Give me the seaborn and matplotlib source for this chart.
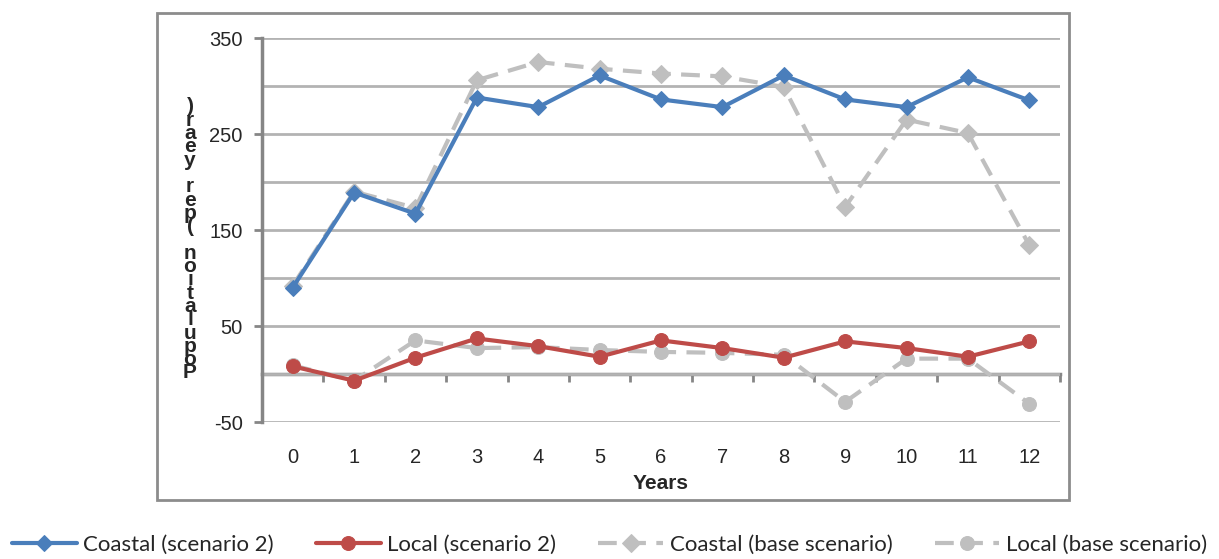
#!/usr/bin/env python3
"""plot.py - population per year, coastal vs local, scenario 2 vs base scenario."""
import numpy as np
import pandas as pd
import matplotlib; matplotlib.use("Agg")
import matplotlib.pyplot as plt
from matplotlib.patches import Rectangle
import seaborn as sns

years = list(range(13))
coastal_s2 = [90, 189, 167, 288, 278, 311, 286, 278, 311, 286, 278, 309, 285]
local_s2 = [8, -7, 17, 37, 29, 18, 35, 27, 17, 34, 27, 18, 34]
coastal_base = [92, 190, 173, 306, 325, 318, 313, 310, 299, 174, 265, 251, 134]
local_base = [9, -7, 35, 27, 28, 25, 23, 22, 20, -29, 16, 16, -31]

labels = ["Coastal (scenario 2)", "Local (scenario 2)",
          "Coastal (base scenario)", "Local (base scenario)"]
ylabel = "Population (per year)"

sns.set_style("white")
plt.rcParams["font.family"] = ["Liberation Sans", "DejaVu Sans"]
plt.rcParams["axes.unicode_minus"] = False

df = pd.DataFrame({"year": years, "cs2": coastal_s2, "ls2": local_s2,
                   "cb": coastal_base, "lb": local_base})

fig = plt.figure(figsize=(12.19, 5.59), dpi=100)
ax = fig.add_axes([262/1219, 1-422/559, 798/1219, 384/559])

# outer chart border
fig.patches.append(Rectangle((157/1219, 1-500/559), 912/1219, 487/559, transform=fig.transFigure,
                             fill=False, edgecolor="#8c8c8c", lw=2, zorder=0))

blue, red, grey = "#4a7ebb", "#be4b48", "#bfbfbf"
dash = (0, (4.5, 2.5))
sns.lineplot(data=df, x="year", y="cb", ax=ax, color=grey, lw=3, linestyle=dash,
             marker="D", markersize=9, markeredgecolor=grey, label=labels[2], zorder=3)
sns.lineplot(data=df, x="year", y="lb", ax=ax, color=grey, lw=3, linestyle=dash,
             marker="o", markersize=10, markeredgecolor=grey, label=labels[3], zorder=3)
sns.lineplot(data=df, x="year", y="cs2", ax=ax, color=blue, lw=3,
             marker="D", markersize=8, markeredgecolor=blue, label=labels[0], zorder=4)
sns.lineplot(data=df, x="year", y="ls2", ax=ax, color=red, lw=3,
             marker="o", markersize=10, markeredgecolor=red, label=labels[1], zorder=4)

ax.set_xlim(-0.5, 12.5)
ax.set_ylim(-50, 350)
ax.set_yticks([-50, 50, 150, 250, 350])
ax.set_yticks([0, 100, 200, 300], minor=True)
ax.grid(True, axis="y", which="both", color="#b3b3b3", lw=2)
ax.set_axisbelow(True)
ax.set_xticks(years)
ax.tick_params(axis="x", length=0, pad=19, labelsize=14.5)
ax.tick_params(axis="y", which="major", direction="out", length=6, width=2, color="#868686",
               pad=8, labelsize=14.5, left=True)
ax.tick_params(axis="y", which="minor", length=0)
for s in ["top", "right", "bottom"]:
    ax.spines[s].set_visible(False)
ax.spines["left"].set_color("#868686")
ax.spines["left"].set_linewidth(2.5)

# category axis drawn at zero with ticks between categories
sec = ax.secondary_xaxis(50/400)
sec.set_xticks(np.arange(-0.5, 13, 1))
sec.set_xticklabels([])
sec.tick_params(direction="out", length=6, width=2, color="#868686")
sec.spines["bottom"].set_color("#868686")
sec.spines["bottom"].set_linewidth(2.5)

ax.set_xlabel("Years", fontsize=15, fontweight="bold", labelpad=5)
ax.set_ylabel("")
fig.text(190/1219, 1-240/559, "\n".join(reversed(ylabel)), ha="center", va="center",
         fontsize=15, fontweight="bold", linespacing=0.62)

handles, labs = ax.get_legend_handles_labels()
order = [labs.index(l) for l in labels]
ax.legend_.remove()
fig.legend([handles[i] for i in order], labels, loc="center", bbox_to_anchor=(0.5, 1-545/559),
           ncol=4, frameon=False, handlelength=2.9, handletextpad=0.3, columnspacing=1.9,
           prop={"family": "Lato", "size": 16})

fig.savefig("out.png", dpi=100)
